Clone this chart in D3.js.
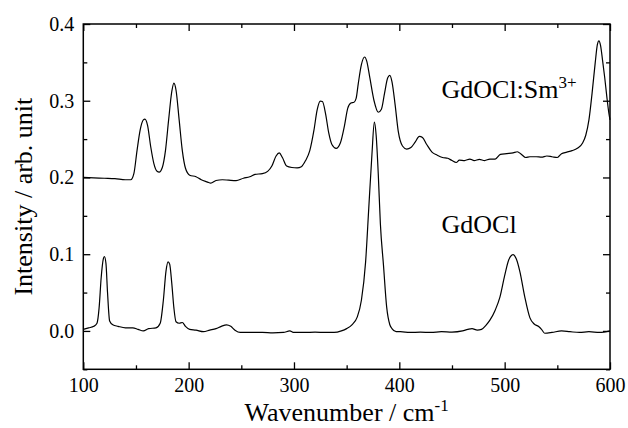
<!DOCTYPE html>
<html><head><meta charset="utf-8">
<script src="https://cdn.jsdelivr.net/npm/d3@7"></script>
</head>
<body style="margin:0"><svg id="c" width="628" height="428" font-family="Liberation Serif"></svg>
<script>
const smX = [100,110,120,130,140,145,148,151,154,157,158.5,161,164,167,170,172,175,178,181,184,186,188,191,194,197,201,207,212,218,221,226,232,238,245,252,258,263,270,275,279,283,286,289,293,298,303,307,311,315,319,322,325,327,330,333,336,340,344,348,351,354,357,359,361,364,367,369,372,376,380,383,386,389,391,393,396,399,403,407,411,415,419,422,426,431,436,441,446,450,454,457,462,467,471,476,481,486,491,496,502,508,512,516,520,524,530,535,540,545,550,554,559,564,569,574,577,580,583,586,588,589.5,591,593,595,597,599,600];
const smY = [0.200,0.1995,0.199,0.1985,0.197,0.197,0.205,0.235,0.262,0.275,0.276,0.268,0.240,0.218,0.208,0.207,0.213,0.235,0.275,0.312,0.323,0.314,0.275,0.235,0.212,0.203,0.201,0.197,0.194,0.1925,0.196,0.197,0.1965,0.196,0.199,0.201,0.204,0.205,0.208,0.215,0.228,0.232,0.226,0.215,0.213,0.2125,0.214,0.222,0.235,0.262,0.288,0.2995,0.299,0.283,0.258,0.243,0.238,0.245,0.268,0.290,0.297,0.298,0.303,0.322,0.347,0.357,0.352,0.330,0.300,0.285,0.289,0.310,0.330,0.333,0.325,0.295,0.260,0.241,0.237,0.239,0.246,0.2535,0.252,0.243,0.233,0.229,0.226,0.225,0.222,0.2195,0.2225,0.222,0.224,0.222,0.2235,0.222,0.224,0.224,0.230,0.231,0.232,0.2335,0.230,0.226,0.227,0.227,0.2265,0.228,0.227,0.226,0.231,0.233,0.235,0.238,0.245,0.255,0.275,0.310,0.350,0.373,0.378,0.372,0.352,0.330,0.305,0.283,0.275];

const gdX = [100,105,110,113,115,117,119,120,121.5,123,125,128,133,140,147,152,157,162,169,173,176,178.5,180.5,182,184,186,188,191,194,197,201,207,214,220,226,231,236,240,244,249,260,270,280,290,296,300,310,320,330,338,345,350,355,360,364,368,371,374,376.3,378,380,382,385,388,391,393,397,401,410,420,430,440,450,460,465,469,474,478,482,486,491,495.5,500,504,508,511,514.5,519,524,528,532,535,538,545,554,562,571,580,590,600];
const gdY = [0.002,0.004,0.006,0.010,0.030,0.070,0.094,0.097,0.088,0.050,0.013,0.008,0.006,0.004,0.004,0.002,0.000,0.003,0.004,0.010,0.040,0.078,0.090,0.087,0.062,0.030,0.012,0.010,0.011,0.006,0.002,0.001,-0.001,0.001,0.003,0.006,0.008,0.006,0.001,-0.002,-0.002,-0.002,-0.0025,-0.002,0.000,-0.002,-0.002,-0.0015,-0.002,-0.002,0.000,0.003,0.008,0.018,0.040,0.090,0.160,0.230,0.272,0.255,0.205,0.140,0.085,0.031,0.008,0.003,-0.001,-0.001,-0.002,-0.0015,-0.002,-0.001,-0.0015,0.000,0.002,0.003,0.001,0.002,0.007,0.014,0.027,0.044,0.072,0.093,0.0995,0.094,0.077,0.045,0.017,0.009,0.006,0.002,-0.003,-0.002,0.000,-0.001,-0.002,-0.001,-0.002,0.000];

const xMajor = [100,200,300,400,500,600];
const xMinor = [150,250,350,450,550];
const yMajor = [0.0,0.1,0.2,0.3,0.4];
const yMinor = [-0.05,0.05,0.15,0.25,0.35];
const yTickLabels = ["0.0","0.1","0.2","0.3","0.4"];

const L = 83.3, R = 610, T = 24, B = 369.3;
const svg = d3.select("#c");
const x = d3.scaleLinear().domain([100,600]).range([L,R]);
const y = d3.scaleLinear().domain([-0.05,0.4]).range([B,T]);

function styleAxis(g){
  g.attr("font-family","Liberation Serif").attr("font-size",20);
  g.select(".domain").remove();
  g.selectAll("line").attr("stroke","#000").attr("stroke-width",1.3);
  g.selectAll("text").attr("fill","#000").attr("font-family","Liberation Serif");
}
svg.append("g").attr("transform",`translate(0,${B})`)
  .call(d3.axisBottom(x).tickValues(xMajor).tickSize(-7).tickPadding(9).tickFormat(d3.format("d"))).call(styleAxis);
svg.append("g").attr("transform",`translate(0,${B})`)
  .call(d3.axisBottom(x).tickValues(xMinor).tickSize(-4).tickFormat("")).call(styleAxis);
svg.append("g").attr("transform",`translate(0,${T})`)
  .call(d3.axisTop(x).tickValues(xMajor).tickSize(-7).tickFormat("")).call(styleAxis);
svg.append("g").attr("transform",`translate(0,${T})`)
  .call(d3.axisTop(x).tickValues(xMinor).tickSize(-4).tickFormat("")).call(styleAxis);
svg.append("g").attr("transform",`translate(${L},0)`)
  .call(d3.axisLeft(y).tickValues(yMajor).tickSize(-7).tickPadding(9).tickFormat((d,i)=>yTickLabels[i])).call(styleAxis);
svg.append("g").attr("transform",`translate(${L},0)`)
  .call(d3.axisLeft(y).tickValues(yMinor).tickSize(-4).tickFormat("")).call(styleAxis);
svg.append("g").attr("transform",`translate(${R},0)`)
  .call(d3.axisRight(y).tickValues(yMajor).tickSize(-7).tickFormat("")).call(styleAxis);
svg.append("g").attr("transform",`translate(${R},0)`)
  .call(d3.axisRight(y).tickValues(yMinor).tickSize(-4).tickFormat("")).call(styleAxis);

svg.append("rect").attr("x",L).attr("y",T).attr("width",R-L).attr("height",B-T)
  .attr("fill","none").attr("stroke","#000").attr("stroke-width",1.5);

const line = d3.line().curve(d3.curveMonotoneX);
svg.append("path").attr("d", line(smX.map((v,i)=>[x(v),y(smY[i])])))
  .attr("fill","none").attr("stroke","#000").attr("stroke-width",1.2);
svg.append("path").attr("d", line(gdX.map((v,i)=>[x(v),y(gdY[i])])))
  .attr("fill","none").attr("stroke","#000").attr("stroke-width",1.2);

const t1 = svg.append("text").attr("x",441.5).attr("y",98.3).attr("font-family","Liberation Serif").attr("font-size",26);
t1.append("tspan").text("GdOCl:Sm");
t1.append("tspan").attr("dy",-10).attr("font-size",17).text("3+");
svg.append("text").attr("x",441.5).attr("y",232.7).attr("font-family","Liberation Serif").attr("font-size",26).text("GdOCl");

const xt = svg.append("text").attr("x",(L+R)/2).attr("y",421).attr("text-anchor","middle").attr("font-family","Liberation Serif").attr("font-size",26);
xt.append("tspan").text("Wavenumber / cm");
xt.append("tspan").attr("dy",-10).attr("font-size",17).text("-1");
svg.append("text").attr("transform",`translate(32,${(T+B)/2}) rotate(-90)`).attr("text-anchor","middle")
  .attr("font-family","Liberation Serif").attr("font-size",26).text("Intensity / arb. unit");
</script></body></html>
